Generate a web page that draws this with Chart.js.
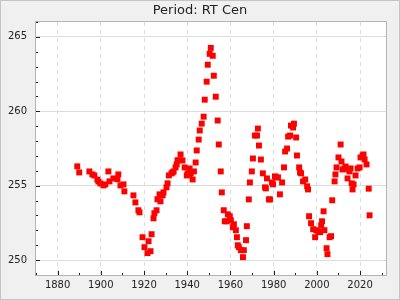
<!DOCTYPE html>
<html><head><meta charset="utf-8">
<script src="https://cdn.jsdelivr.net/npm/chart.js@4"></script>
<style>html,body{margin:0;padding:0;background:#f0f0f0;}canvas{display:block;}</style>
</head><body>
<div style="width:400px;height:300px;"><canvas id="c" width="400" height="300"></canvas></div>
<script>
const titleText = "Period: RT Cen";
const years = [
1889.1,1890.0,1894.7,1896.1,1897.0,1898.4,1898.9,1899.8,1901.2,1902.1,
1903.5,1904.0,1905.8,1907.7,1908.1,1909.1,1910.5,1910.9,1915.1,1916.0,
1917.4,1917.9,1919.3,1920.2,1921.6,1922.1,1923.0,1923.5,1924.4,1924.8,
1925.8,1926.2,1927.2,1927.6,1928.6,1929.0,1930.4,1930.9,1931.5,1932.7,
1933.2,1933.7,1934.6,1935.1,1935.5,1936.0,1936.9,1937.8,1938.8,1939.8,
1940.2,1940.9,1941.1,1941.6,1942.5,1943.1,1943.9,1944.4,1945.3,1945.8,
1946.7,1947.6,1948.1,1949.0,1949.5,1950.4,1950.9,1951.8,1952.3,1953.2,
1954.1,1954.6,1955.5,1956.0,1956.9,1957.4,1958.3,1958.8,1959.7,1960.2,
1961.1,1961.6,1962.5,1963.0,1963.4,1963.9,1964.8,1965.8,1966.2,1967.2,
1967.6,1968.5,1969.0,1969.9,1970.4,1971.3,1972.3,1972.7,1973.2,1974.1,
1975.0,1976.0,1976.4,1976.9,1977.8,1978.3,1979.2,1979.7,1980.6,1981.1,
1982.0,1982.9,1983.9,1984.8,1985.3,1986.2,1986.7,1987.6,1988.0,1989.0,
1989.4,1990.4,1990.8,1991.8,1992.2,1992.7,1993.6,1994.6,1995.5,1995.9,
1996.4,1997.3,1998.3,1999.2,1999.7,2000.6,2001.5,2002.0,2002.4,2003.1,
2003.5,2004.5,2004.9,2005.9,2006.6,2007.1,2008.2,2008.6,2009.1,2010.0,
2011.0,2011.4,2011.9,2012.8,2013.3,2014.2,2014.7,2015.1,2015.6,2016.1,
2016.5,2017.0,2017.9,2018.9,2019.8,2020.2,2021.2,2021.6,2022.1,2023.0,
2024.0,2024.4];
const periods = [
256.30,255.89,255.96,255.76,255.69,255.41,255.28,255.15,255.02,255.09,
255.96,255.29,255.49,255.43,255.76,255.02,255.09,254.62,254.35,253.88,
253.35,253.21,251.54,250.87,250.47,251.27,250.60,251.74,252.81,253.15,
253.35,254.09,254.42,253.95,254.35,254.55,254.89,255.16,255.69,255.83,
255.89,255.96,256.23,256.43,256.70,256.70,257.10,256.70,256.23,255.69,
255.83,255.78,256.16,255.83,255.42,255.96,256.56,257.37,258.10,258.71,
259.17,259.64,260.78,261.99,263.13,263.86,264.26,263.73,262.39,260.98,
259.38,257.77,255.96,254.55,253.35,252.61,252.61,253.08,252.95,252.68,
252.21,252.41,252.01,251.54,251.00,250.87,250.67,250.20,250.67,251.34,
252.28,254.08,255.22,255.96,256.83,258.37,258.37,258.84,257.70,256.76,
255.83,254.89,254.82,255.49,254.08,254.08,255.22,255.09,255.63,255.56,
255.56,254.42,255.22,256.23,257.30,257.50,258.30,258.37,259.04,258.91,
259.17,258.24,257.03,256.23,255.89,255.83,255.29,255.42,254.96,254.75,
252.95,252.48,252.08,251.54,252.01,251.94,251.88,252.34,252.61,253.28,
252.01,250.80,250.40,251.54,251.61,254.02,255.29,255.76,256.23,256.90,
257.77,256.63,256.09,256.16,256.29,255.49,256.09,255.96,256.16,255.16,
254.75,255.09,255.69,256.16,256.23,256.90,257.03,257.10,256.76,256.43,
254.80,253.01];
const xTicks = [1880,1900,1920,1940,1960,1980,2000,2020];
const xMinorTicks = [1870,1890,1910,1930,1950,1970,1990,2010,2030];
const yTicks = [250,255,260,265];
const yMinorTicks = [249,251,252,253,254,256,257,258,259,261,262,263,264,266];
const xMin = 1870, xMax = 2032, yMin = 249, yMax = 266;

const points = years.map((y,i)=>({x:y,y:periods[i]}));

const deco = {
  id:'deco',
  beforeDraw(chart){
    const {ctx, chartArea:a} = chart;
    ctx.save();
    ctx.fillStyle='#f0f0f0';
    ctx.fillRect(0,0,chart.width,chart.height);
    ctx.strokeStyle='#c4c4c4';
    ctx.lineWidth=1;
    ctx.strokeRect(0.5,0.5,chart.width-1,chart.height-1);
    ctx.fillStyle='#ffffff';
    ctx.fillRect(a.left,a.top,a.right-a.left,a.bottom-a.top);
    ctx.restore();
  },
  afterDraw(chart){
    const {ctx, chartArea:a, scales} = chart;
    ctx.save();
    ctx.strokeStyle='#222';
    ctx.lineWidth=1;
    ctx.beginPath();
    xTicks.forEach(v=>{const p=Math.round(scales.x.getPixelForValue(v))+0.5;ctx.moveTo(p,a.bottom);ctx.lineTo(p,a.bottom-4);});
    xMinorTicks.forEach(v=>{const p=Math.round(scales.x.getPixelForValue(v))+0.5;ctx.moveTo(p,a.bottom);ctx.lineTo(p,a.bottom-2);});
    yTicks.forEach(v=>{const p=Math.round(scales.y.getPixelForValue(v))+0.5;ctx.moveTo(a.left,p);ctx.lineTo(a.left+4,p);});
    yMinorTicks.forEach(v=>{const p=Math.round(scales.y.getPixelForValue(v))+0.5;ctx.moveTo(a.left,p);ctx.lineTo(a.left+2,p);});
    ctx.stroke();
    ctx.strokeStyle='#b4b4b4';
    ctx.strokeRect(Math.round(a.left)-0.5,Math.round(a.top)-0.5,Math.round(a.right-a.left)+1,Math.round(a.bottom-a.top)+1);
    ctx.fillStyle='#222';
    ctx.font='13px "DejaVu Sans"';
    ctx.textAlign='center';
    ctx.textBaseline='middle';
    ctx.fillText(titleText, chart.width/2, 11);
    ctx.restore();
  }
};

new Chart(document.getElementById('c'),{
  type:'scatter',
  data:{datasets:[{data:points,pointStyle:'rect',pointRadius:4.2,pointHoverRadius:4.2,backgroundColor:'#ff0000',borderWidth:0}]},
  options:{
    responsive:false,animation:false,
    layout:{padding:{left:0,right:14,top:22,bottom:0}},
    plugins:{legend:{display:false},tooltip:{enabled:false},title:{display:false}},
    scales:{
      x:{type:'linear',min:xMin,max:xMax,
        afterBuildTicks:s=>{s.ticks=xTicks.map(v=>({value:v}));},
        afterFit:s=>{s.height=25;},
        grid:{color:'#dcdcdc',drawTicks:false,lineWidth:1},
        border:{display:false,dash:[4,4]},
        ticks:{padding:4,color:'#222',font:{family:'DejaVu Sans',size:10},maxRotation:0,callback:v=>String(v)}},
      y:{type:'linear',min:yMin,max:yMax,
        afterBuildTicks:s=>{s.ticks=yTicks.map(v=>({value:v}));},
        afterFit:s=>{s.width=36;},
        grid:{color:'#dcdcdc',drawTicks:false,lineWidth:1},
        border:{display:false},
        ticks:{padding:9,color:'#222',font:{family:'DejaVu Sans',size:10},callback:v=>String(v)}}
    }
  },
  plugins:[deco]
});
</script>
</body></html>
